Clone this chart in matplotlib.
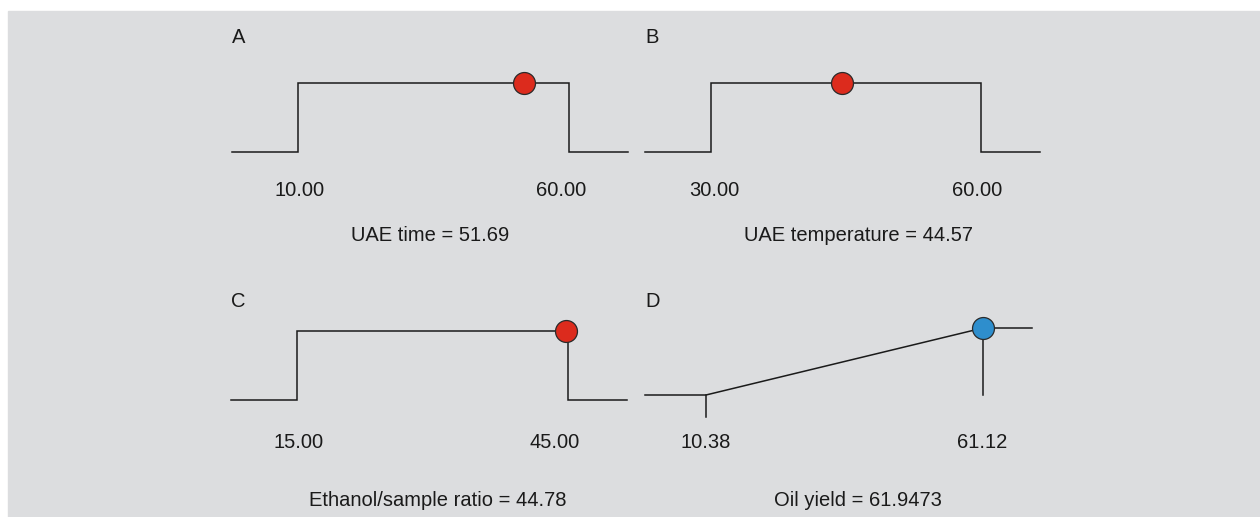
import numpy as np
import matplotlib
matplotlib.use('Agg')
import matplotlib.pyplot as plt
from matplotlib import font_manager
from matplotlib.patches import Rectangle

# desirability panels: factor ranges, optimum values
letters = ['A', 'B', 'C', 'D']
names = ['UAE time', 'UAE temperature', 'Ethanol/sample ratio', 'Oil yield']
lows = [10.00, 30.00, 15.00, 10.38]
highs = [60.00, 60.00, 45.00, 61.12]
values = [51.69, 44.57, 44.78, 61.9473]
value_fmt = ['{:.2f}', '{:.2f}', '{:.2f}', '{:.4f}']
is_response = [False, False, False, True]

# fonts (narrow sans if it is there)
names_avail = {f.name for f in font_manager.fontManager.ttflist}
if 'Liberation Sans Narrow' in names_avail:
    fam, fs = 'Liberation Sans Narrow', 16.5
else:
    fam, fs = 'Liberation Sans', 14.5
plt.rcParams['font.family'] = [fam, 'DejaVu Sans']

W, H = 1260, 517
fig = plt.figure(figsize=(W / 100, H / 100), dpi=100)
fig.patches.append(Rectangle((8 / W, 0), 1 - 8 / W, 1 - 11 / H,
                             transform=fig.transFigure, color='#dcdddf', zorder=-10))

# layout in pixels: left, right, top(d=1), bottom(d=0)
boxes = [(232, 628, 83, 152), (645, 1040, 83, 152),
         (231, 627, 331, 400), (645, 1032, 328, 395)]
pads = [(0.2435, 0.2177), (0.2444, 0.2185), (0.2435, 0.2177), (0.220, 0.177)]
tick_base = [44, 44, 48, 53]
title_base = [89, 89, 106, 111]
title_pos = [0.5, 0.54, 0.523, 0.55]
letter_base = [40, 40, 24, 21]
lab_dx = [(2, -8), (3, -4), (2, -13), (0, -1)]

lc = '#1a1a1a'
for i in range(4):
    l, r, t, b = boxes[i]
    ax = fig.add_axes([l / W, 1 - b / H, (r - l) / W, (b - t) / H])
    ax.set_axis_off()
    lo, hi, v = lows[i], highs[i], values[i]
    rng = hi - lo
    x0, x1 = lo - pads[i][0] * rng, hi + pads[i][1] * rng
    ax.set_xlim(x0, x1)
    ax.set_ylim(0, 1)
    if not is_response[i]:
        ax.plot([x0, lo, lo, hi, hi, x1], [0, 0, 1, 1, 0, 0], color=lc, lw=1.1,
                clip_on=False, solid_joinstyle='miter')
        d = 1.0 if lo <= v <= hi else 0.0
        mc = '#dc2b1d'
    else:
        ax.plot([x0, lo, hi, x1], [0, 0, 1, 1], color=lc, lw=1.1, clip_on=False)
        ax.plot([lo, lo], [0, -0.33], color=lc, lw=1.1, clip_on=False)
        ax.plot([hi, hi], [0, 1], color=lc, lw=1.1, clip_on=False)
        d = float(np.clip((v - lo) / rng, 0, 1))
        mc = '#2e8ecd'
    # the marker sits on the ramp, capped at its upper end
    ax.plot([min(v, hi)], [d], 'o', ms=15.8, mfc=mc, mec='#2a2a2a', mew=0.9,
            clip_on=False, zorder=5)
    for xv, dx in zip([lo, hi], lab_dx[i]):
        ax.annotate('{:.2f}'.format(xv), xy=(xv, 0), xycoords=('data', 'axes fraction'),
                    xytext=(dx, -tick_base[i]), textcoords='offset pixels',
                    ha='center', va='baseline', fontsize=fs, color='#1a1a1a')
    ax.annotate(names[i] + ' = ' + value_fmt[i].format(v), xy=(title_pos[i], 0),
                xycoords='axes fraction', xytext=(0, -title_base[i]),
                textcoords='offset pixels', ha='center', va='baseline',
                fontsize=fs, color='#1a1a1a')
    ax.annotate(letters[i], xy=(0, 1), xycoords='axes fraction',
                xytext=(0, letter_base[i]), textcoords='offset pixels',
                ha='left', va='baseline', fontsize=fs, color='#1a1a1a')

fig.savefig('out.png', dpi=100)
